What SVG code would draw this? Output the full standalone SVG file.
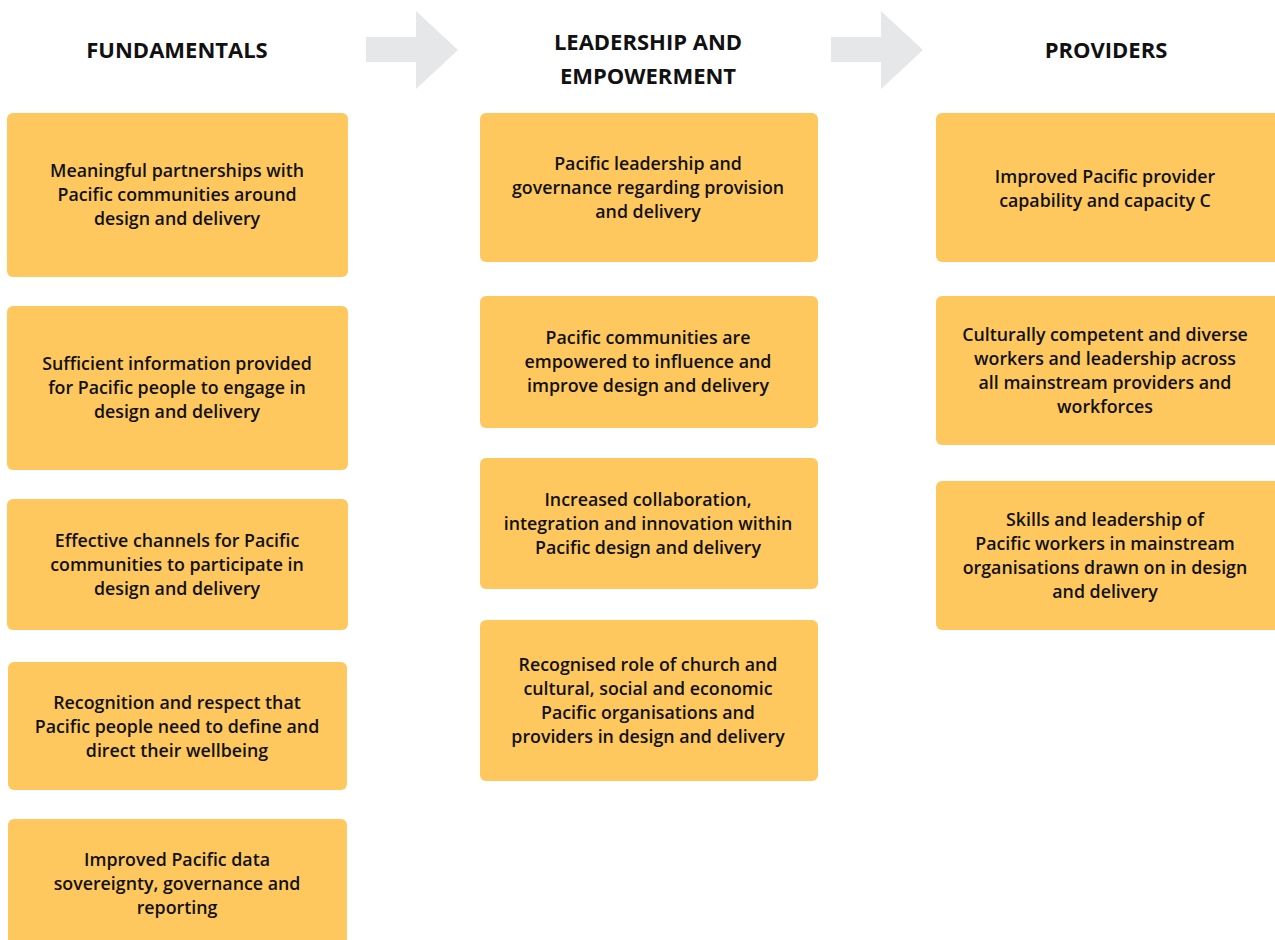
<svg xmlns="http://www.w3.org/2000/svg" width="1275" height="940" viewBox="0 0 1275 940">
<style>
.box{fill:#FEC85F;}
.t{font-family:"Open Sans","Noto Sans",sans-serif;font-weight:600;font-size:17.8px;fill:#111;text-anchor:middle;}
.h{font-family:"Open Sans","Noto Sans",sans-serif;font-weight:700;font-size:22px;fill:#111;text-anchor:middle;}
.arr{fill:#E6E7E8;}
</style>
<rect width="1275" height="940" fill="#fff"/>
<g id="connectors">
<polygon class="arr" points="366,37 416,37 416,11 458,50 416,89 416,62 366,62"/>
<polygon class="arr" points="831,37 881,37 881,11 923,50 881,89 881,62 831,62"/>
</g>
<g id="headings">
<text class="h" x="177" y="58">FUNDAMENTALS</text>
<text class="h" x="648" y="50">LEADERSHIP AND</text>
<text class="h" x="648" y="84">EMPOWERMENT</text>
<text class="h" x="1106" y="58">PROVIDERS</text>
</g>
<g id="f1"><rect class="box" x="7" y="113" width="341" height="164" rx="6"/>
<text class="t" x="177"><tspan x="177" y="177">Meaningful partnerships with</tspan><tspan x="177" y="201">Pacific communities around</tspan><tspan x="177" y="225">design and delivery</tspan></text></g>
<g id="f2"><rect class="box" x="7" y="306" width="341" height="164" rx="6"/>
<text class="t" x="177"><tspan x="177" y="370">Sufficient information provided</tspan><tspan x="177" y="394">for Pacific people to engage in</tspan><tspan x="177" y="418">design and delivery</tspan></text></g>
<g id="f3"><rect class="box" x="7" y="499" width="341" height="131" rx="6"/>
<text class="t" x="177"><tspan x="177" y="547">Effective channels for Pacific</tspan><tspan x="177" y="571">communities to participate in</tspan><tspan x="177" y="595">design and delivery</tspan></text></g>
<g id="f4"><rect class="box" x="8" y="662" width="339" height="128" rx="6"/>
<text class="t" x="177"><tspan x="177" y="709">Recognition and respect that</tspan><tspan x="177" y="733">Pacific people need to define and</tspan><tspan x="177" y="757">direct their wellbeing</tspan></text></g>
<g id="f5"><rect class="box" x="8" y="819" width="339" height="140" rx="6"/>
<text class="t" x="177"><tspan x="177" y="866">Improved Pacific data</tspan><tspan x="177" y="890">sovereignty, governance and</tspan><tspan x="177" y="914">reporting</tspan></text></g>
<g id="l1"><rect class="box" x="480" y="113" width="338" height="149" rx="6"/>
<text class="t" x="648"><tspan x="648" y="170">Pacific leadership and</tspan><tspan x="648" y="194">governance regarding provision</tspan><tspan x="648" y="218">and delivery</tspan></text></g>
<g id="l2"><rect class="box" x="480" y="296" width="338" height="132" rx="6"/>
<text class="t" x="648"><tspan x="648" y="344">Pacific communities are</tspan><tspan x="648" y="368">empowered to influence and</tspan><tspan x="648" y="392">improve design and delivery</tspan></text></g>
<g id="l3"><rect class="box" x="480" y="458" width="338" height="131" rx="6"/>
<text class="t" x="648"><tspan x="648" y="506">Increased collaboration,</tspan><tspan x="648" y="530">integration and innovation within</tspan><tspan x="648" y="554">Pacific design and delivery</tspan></text></g>
<g id="l4"><rect class="box" x="480" y="620" width="338" height="161" rx="6"/>
<text class="t" x="648"><tspan x="648" y="671">Recognised role of church and</tspan><tspan x="648" y="695">cultural, social and economic</tspan><tspan x="648" y="719">Pacific organisations and</tspan><tspan x="648" y="743">providers in design and delivery</tspan></text></g>
<g id="p1"><rect class="box" x="936" y="113" width="345" height="149" rx="6"/>
<text class="t" x="1105"><tspan x="1105" y="183">Improved Pacific provider</tspan><tspan x="1105" y="207">capability and capacity C</tspan></text></g>
<g id="p2"><rect class="box" x="936" y="296" width="345" height="149" rx="6"/>
<text class="t" x="1105"><tspan x="1105" y="341">Culturally competent and diverse</tspan><tspan x="1105" y="365">workers and leadership across</tspan><tspan x="1105" y="389">all mainstream providers and</tspan><tspan x="1105" y="413">workforces</tspan></text></g>
<g id="p3"><rect class="box" x="936" y="481" width="345" height="149" rx="6"/>
<text class="t" x="1105"><tspan x="1105" y="526">Skills and leadership of</tspan><tspan x="1105" y="550">Pacific workers in mainstream</tspan><tspan x="1105" y="574">organisations drawn on in design</tspan><tspan x="1105" y="598">and delivery</tspan></text></g>
</svg>
